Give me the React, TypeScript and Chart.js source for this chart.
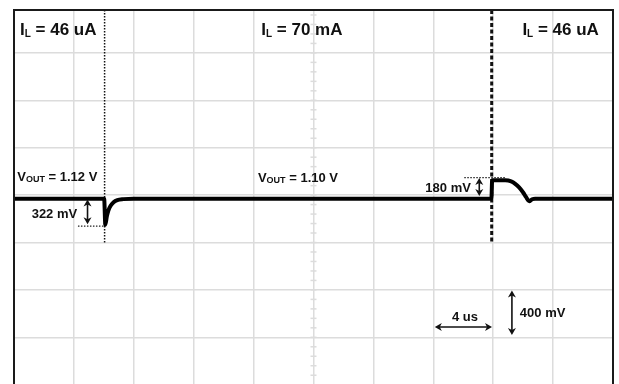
import React, { useEffect, useRef } from "react";
import { Chart, registerables } from "chart.js";

Chart.register(...registerables);

// time axis in microseconds (4 us / div), voltage deviation in mV (400 mV / div)
const timeUs = [
  0, 6.02, 6.1, 6.2, 6.3, 6.45, 6.65, 6.9, 7.3, 8.0,
  31.88, 31.93, 32.8, 33.2, 33.47, 33.73, 34.0, 34.2, 34.4, 34.6, 34.8, 40,
];
const deltaMv = [
  0, 0, -220, -150, -100, -60, -30, -12, -4, 0,
  0, 155, 155, 146, 125, 95, 52, 12, -22, -5, 0, 0,
];
const xGridUs = [0, 4, 8, 12, 16, 20, 24, 28, 32, 36, 40];
const yGridMv = [-1170, -770, -370, 30, 430, 830, 1230];
const loadLabels = ["46 uA", "70 mA", "46 uA"];
const voutLabels = ["1.12 V", "1.10 V"];
const stepLabels = ["322 mV", "180 mV"];
const scaleLabels = ["4 us", "400 mV"];
const eventTimesUs = [6.05, 31.9];

const FONT = '"Liberation Sans", Arial, sans-serif';
const GRID = "#dcdcdc";

type Part = { t: string; sub?: boolean };

function drawParts(ctx: CanvasRenderingContext2D, parts: Part[], x: number, y: number, size: number, subSize: number, subDy: number) {
  let cx = x;
  ctx.fillStyle = "#111";
  ctx.textBaseline = "alphabetic";
  ctx.textAlign = "left";
  for (const p of parts) {
    ctx.font = `bold ${p.sub ? subSize : size}px ${FONT}`;
    ctx.fillText(p.t, cx, y + (p.sub ? subDy : 0));
    cx += ctx.measureText(p.t).width;
  }
}

function arrowHead(ctx: CanvasRenderingContext2D, x: number, y: number, dx: number, dy: number) {
  const len = 7, half = 4;
  const px = -dy, py = dx;
  ctx.beginPath();
  ctx.moveTo(x, y);
  ctx.lineTo(x - dx * len + px * half, y - dy * len + py * half);
  ctx.lineTo(x - dx * (len - 2), y - dy * (len - 2));
  ctx.lineTo(x - dx * len - px * half, y - dy * len - py * half);
  ctx.closePath();
  ctx.fill();
}

function doubleArrowV(ctx: CanvasRenderingContext2D, x: number, y1: number, y2: number) {
  ctx.strokeStyle = "#111";
  ctx.fillStyle = "#111";
  ctx.lineWidth = 1.6;
  ctx.setLineDash([]);
  ctx.beginPath();
  ctx.moveTo(x, y1 + 3);
  ctx.lineTo(x, y2 - 3);
  ctx.stroke();
  arrowHead(ctx, x, y1, 0, -1);
  arrowHead(ctx, x, y2, 0, 1);
}

function doubleArrowH(ctx: CanvasRenderingContext2D, y: number, x1: number, x2: number) {
  ctx.strokeStyle = "#111";
  ctx.fillStyle = "#111";
  ctx.lineWidth = 1.6;
  ctx.setLineDash([]);
  ctx.beginPath();
  ctx.moveTo(x1 + 3, y);
  ctx.lineTo(x2 - 3, y);
  ctx.stroke();
  arrowHead(ctx, x1, y, -1, 0);
  arrowHead(ctx, x2, y, 1, 0);
}

const scopePlugin = {
  id: "scopeDecor",
  beforeDatasetsDraw(chart: any) {
    const { ctx, chartArea, scales } = chart;
    const xs = scales.x, ys = scales.y;
    ctx.save();
    // minor ticks on centre vertical line
    const cx = xs.getPixelForValue(20);
    ctx.strokeStyle = GRID;
    ctx.lineWidth = 1.5;
    for (let v = -1570; v <= 1600; v += 80) {
      const py = ys.getPixelForValue(v);
      if (py < chartArea.top + 2 || py > chartArea.bottom) continue;
      ctx.beginPath();
      ctx.moveTo(cx - 3, py);
      ctx.lineTo(cx + 3, py);
      ctx.stroke();
    }
    // event marker lines
    const yEnd = ys.getPixelForValue(-380);
    ctx.strokeStyle = "#111";
    ctx.lineWidth = 1.5;
    ctx.setLineDash([1.5, 1.5]);
    let ex = xs.getPixelForValue(eventTimesUs[0]);
    ctx.beginPath();
    ctx.moveTo(ex, chartArea.top);
    ctx.lineTo(ex, yEnd);
    ctx.stroke();
    ctx.lineWidth = 3;
    ctx.setLineDash([4, 2.5]);
    ex = xs.getPixelForValue(eventTimesUs[1]);
    ctx.beginPath();
    ctx.moveTo(ex, chartArea.top);
    ctx.lineTo(ex, yEnd);
    ctx.stroke();
    ctx.restore();
  },
  afterDatasetsDraw(chart: any) {
    const { ctx, chartArea, scales } = chart;
    const xs = scales.x, ys = scales.y;
    const X = (v: number) => xs.getPixelForValue(v);
    const Y = (v: number) => ys.getPixelForValue(v);
    ctx.save();
    // frame
    ctx.strokeStyle = "#1a1a1a";
    ctx.lineWidth = 2;
    ctx.setLineDash([]);
    ctx.beginPath();
    ctx.moveTo(chartArea.left, chartArea.bottom);
    ctx.lineTo(chartArea.left, chartArea.top);
    ctx.lineTo(chartArea.right, chartArea.top);
    ctx.lineTo(chartArea.right, chartArea.bottom);
    ctx.stroke();

    // dotted reference lines
    ctx.strokeStyle = "#222";
    ctx.lineWidth = 1.2;
    ctx.setLineDash([1.5, 1.5]);
    ctx.beginPath();
    ctx.moveTo(X(4.27), Y(-232));
    ctx.lineTo(X(eventTimesUs[0]), Y(-232));
    ctx.moveTo(X(30.07), Y(177));
    ctx.lineTo(X(32.85), Y(177));
    ctx.stroke();
    ctx.setLineDash([]);

    // arrows
    doubleArrowV(ctx, X(4.91), Y(-8), Y(-215));
    doubleArrowV(ctx, X(31.07), Y(175), Y(22));
    doubleArrowH(ctx, Y(-1083), X(28.1), X(31.92));
    doubleArrowV(ctx, X(33.25), Y(-774), Y(-1150));

    // load labels
    drawParts(ctx, [{ t: "I" }, { t: "L", sub: true }, { t: " = " + loadLabels[0] }], X(0.4), Y(1384), 17, 10, 2);
    drawParts(ctx, [{ t: "I" }, { t: "L", sub: true }, { t: " = " + loadLabels[1] }], X(16.51), Y(1380), 17, 10, 2);
    drawParts(ctx, [{ t: "I" }, { t: "L", sub: true }, { t: " = " + loadLabels[2] }], X(33.95), Y(1382), 17, 10, 2);
    // output voltage labels
    drawParts(ctx, [{ t: "V" }, { t: "OUT", sub: true }, { t: " = " + voutLabels[0] }], X(0.22), Y(150), 13, 9, 1);
    drawParts(ctx, [{ t: "V" }, { t: "OUT", sub: true }, { t: " = " + voutLabels[1] }], X(16.29), Y(144), 13, 9, 1);
    // step labels
    ctx.font = `bold 13px ${FONT}`;
    ctx.fillStyle = "#111";
    ctx.textAlign = "right";
    ctx.fillText(stepLabels[0], X(4.22), Y(-165));
    ctx.fillText(stepLabels[1], X(30.51), Y(60));
    ctx.textAlign = "left";
    ctx.fillText(scaleLabels[0], X(29.25), Y(-1030));
    ctx.fillText(scaleLabels[1], X(33.78), Y(-1002));
    ctx.restore();
  },
};

export default function App() {
  const ref = useRef<HTMLCanvasElement | null>(null);
  useEffect(() => {
    if (!ref.current) return;
    const chart = new Chart(ref.current, {
      type: "line",
      data: {
        datasets: [
          {
            data: timeUs.map((t, i) => ({ x: t, y: deltaMv[i] })),
            borderColor: "#000",
            borderWidth: 4,
            pointRadius: 0,
            cubicInterpolationMode: "monotone",
            fill: false,
          },
        ],
      },
      options: {
        animation: false,
        responsive: false,
        devicePixelRatio: 1,
        layout: { padding: { left: 14, top: 10, right: 6, bottom: 0 } },
        plugins: { legend: { display: false }, tooltip: { enabled: false } },
        scales: {
          x: {
            type: "linear",
            min: 0,
            max: 40,
            afterBuildTicks: (s: any) => {
              s.ticks = xGridUs.map((v) => ({ value: v }));
            },
            ticks: { display: false },
            grid: { color: GRID, lineWidth: 1.5, drawTicks: false },
            border: { display: false },
          },
          y: {
            type: "linear",
            min: -1564,
            max: 1592,
            afterBuildTicks: (s: any) => {
              s.ticks = yGridMv.map((v) => ({ value: v }));
            },
            ticks: { display: false },
            grid: { color: GRID, lineWidth: 1.5, drawTicks: false },
            border: { display: false },
          },
        },
      },
      plugins: [scopePlugin],
    } as any);
    return () => chart.destroy();
  }, []);
  return (
    <div style={{ position: "absolute", left: 0, top: 0, width: 619, height: 384, background: "#fff" }}>
      <canvas ref={ref} width={619} height={384} style={{ display: "block" }} />
    </div>
  );
}
